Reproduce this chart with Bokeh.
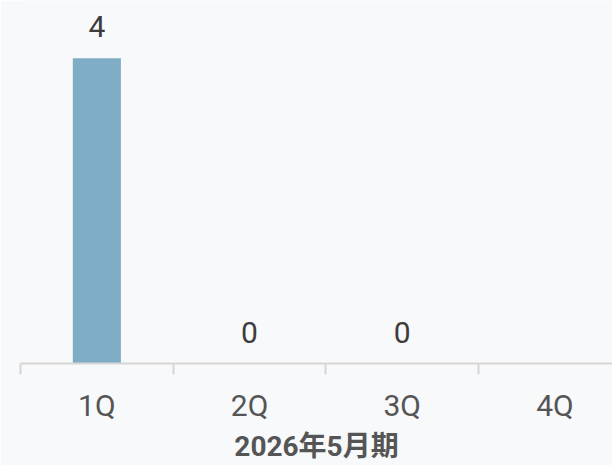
from bokeh.plotting import figure
from bokeh.models import ColumnDataSource, Range1d, LinearAxis, FixedTicker
from bokeh.core.properties import value
from bokeh.embed import file_html
from bokeh.resources import INLINE

# data
quarters = ["1Q", "2Q", "3Q", "4Q"]
counts = [4, 0, 0, None]
period_label = "2026年5月期"

xs = [i + 0.5 for i in range(len(quarters))]
bounds = [float(i) for i in range(len(quarters))]
bar_tops = [c if c is not None else 0 for c in counts]
lab_x = [x for x, c in zip(xs, counts) if c is not None]
lab_y = [c for c in counts if c is not None]
lab_t = [str(c) for c in counts if c is not None]

bars = ColumnDataSource(dict(x=xs, top=bar_tops))
labels = ColumnDataSource(dict(x=lab_x, y=lab_y, t=lab_t))

BG = "#f8f9fa"
p = figure(width=612, height=465, output_backend="svg", toolbar_location=None,
           x_range=Range1d(0, 3.877), y_range=Range1d(0, 4.758),
           x_axis_location=None, y_axis_location=None,
           min_border_left=20, min_border_right=0, min_border_top=0, min_border_bottom=0,
           background_fill_color=BG, border_fill_color=BG, outline_line_color=None)
p.grid.visible = False

p.vbar(x="x", top="top", bottom=0, width=0.315, source=bars,
       fill_color="#80adc6", line_color=None)
p.text(x="x", y="y", text="t", source=labels, text_align="center",
       text_baseline="bottom", y_offset=-21, text_font=value("Roboto"),
       text_font_size="30px", text_color="#3c3c3c")

axis = LinearAxis(ticker=FixedTicker(ticks=xs, minor_ticks=bounds),
                  major_label_overrides={x: q for x, q in zip(xs, quarters)},
                  axis_line_color="#d6d6d6", axis_line_width=2,
                  major_tick_line_color=None, major_tick_out=0, major_tick_in=0,
                  minor_tick_line_color="#d6d6d6", minor_tick_line_width=2,
                  minor_tick_in=0, minor_tick_out=11,
                  major_label_text_font="Roboto",
                  major_label_text_font_size="30px",
                  major_label_text_color="#555555",
                  major_label_standoff=13,
                  axis_label=period_label,
                  axis_label_text_font="Roboto, 'Noto Sans CJK JP'",
                  axis_label_text_font_style="bold",
                  axis_label_text_font_size="28px",
                  axis_label_text_color="#555555",
                  axis_label_text_baseline="alphabetic",
                  axis_label_standoff=4)
p.add_layout(axis, "below")

open("out.html", "w").write(file_html(p, INLINE))
